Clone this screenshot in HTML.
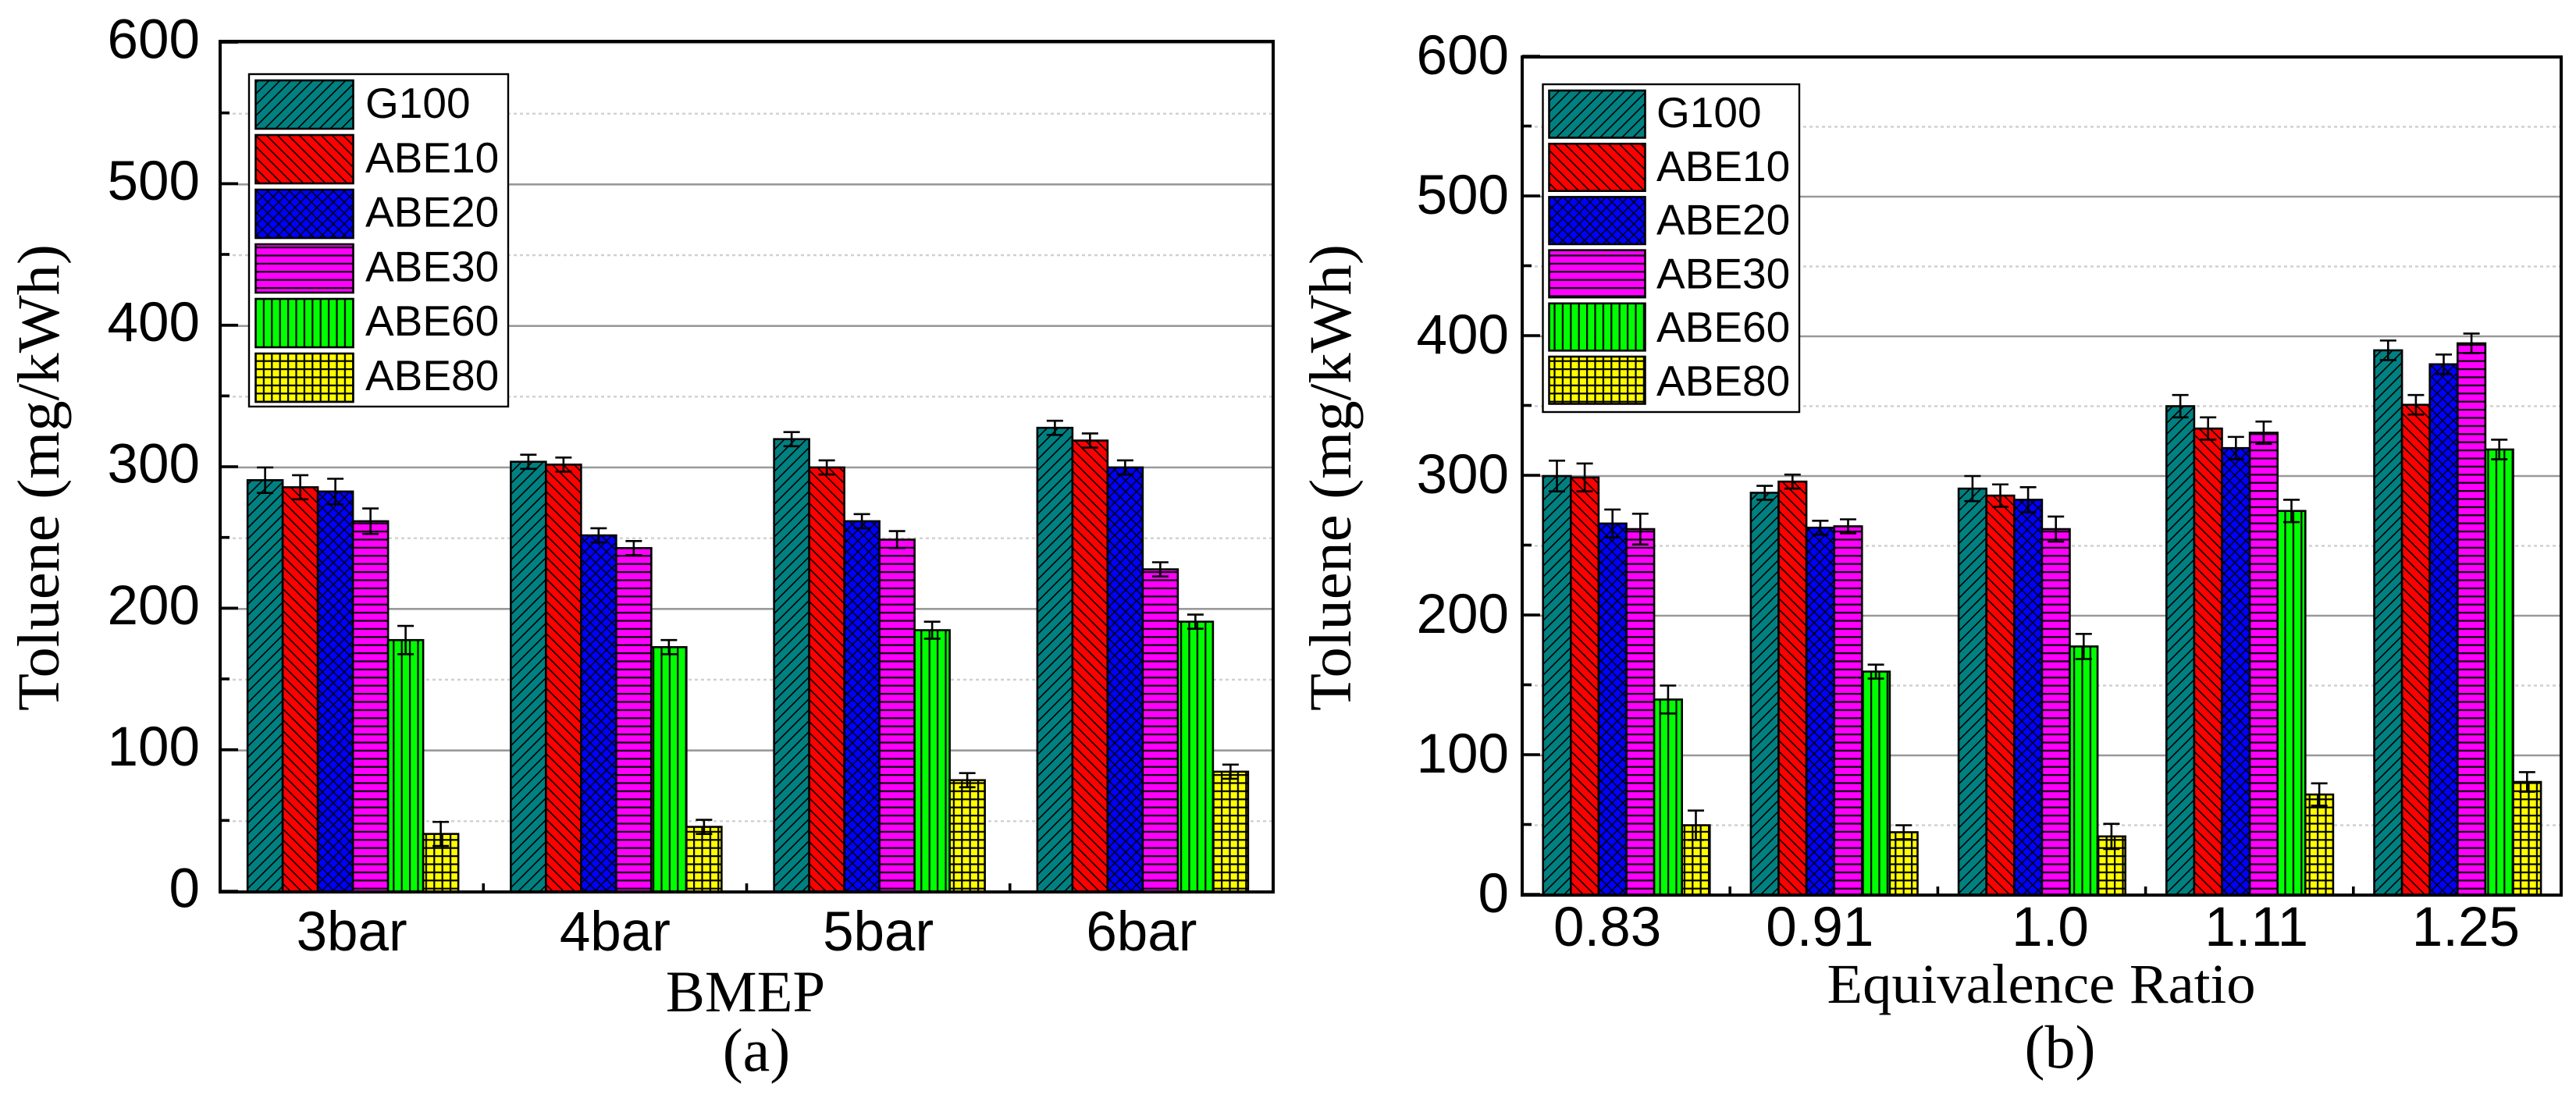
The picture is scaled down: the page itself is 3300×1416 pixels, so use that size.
<!DOCTYPE html>
<html lang="en">
<head>
<meta charset="utf-8">
<title>Toluene emissions by BMEP and equivalence ratio</title>
<style>
html,body{margin:0;padding:0;background:#fff;width:3300px;height:1416px;overflow:hidden}
svg{display:block}
.sans{font-family:"Liberation Sans",sans-serif;fill:#000}
.serif{font-family:"Liberation Serif",serif;fill:#000}
</style>
</head>
<body>
<svg id="chart" xmlns="http://www.w3.org/2000/svg" width="3300" height="1416" viewBox="0 0 3300 1416">
<defs>
<pattern id="hatch-0" patternUnits="userSpaceOnUse" width="14" height="14"><rect width="14" height="14" fill="#008080"/><path d="M-2,16L16,-2M-9,9L9,-9M5,23L23,5" stroke="#000" stroke-width="1.6" fill="none"/></pattern>
<pattern id="hatch-1" patternUnits="userSpaceOnUse" width="14" height="14"><rect width="14" height="14" fill="#ff0000"/><path d="M-2,-2L16,16M-9,5L9,23M5,-9L23,9" stroke="#000" stroke-width="1.6" fill="none"/></pattern>
<pattern id="hatch-2" patternUnits="userSpaceOnUse" width="14" height="14"><rect width="14" height="14" fill="#0000ff"/><path d="M-2,16L16,-2M-9,9L9,-9M5,23L23,5M-2,-2L16,16M-9,5L9,23M5,-9L23,9" stroke="#000" stroke-width="1.5" fill="none"/></pattern>
<pattern id="hatch-3" patternUnits="userSpaceOnUse" width="10.4" height="10.4"><rect width="10.4" height="10.4" fill="#ff00ff"/><rect y="4" width="10.4" height="2.2" fill="#000"/></pattern>
<pattern id="hatch-4" patternUnits="userSpaceOnUse" width="10.4" height="10.4"><rect width="10.4" height="10.4" fill="#00ff00"/><rect x="4" width="2.2" height="10.4" fill="#000"/></pattern>
<pattern id="hatch-5" patternUnits="userSpaceOnUse" width="10.4" height="10.4"><rect width="10.4" height="10.4" fill="#ffff00"/><rect y="4" width="10.4" height="2.2" fill="#000"/><rect x="4" width="2.2" height="10.4" fill="#000"/></pattern>
</defs>
<rect width="3300" height="1416" fill="#fff"/>
<g id="panel-a"></g>
<g id="panel-b"></g>
<text class="serif" font-size="76" text-anchor="middle" textLength="598" lengthAdjust="spacingAndGlyphs" transform="translate(75 612) rotate(-90)">Toluene (mg/kWh)</text>
<text class="serif" font-size="76" text-anchor="middle" textLength="598" lengthAdjust="spacingAndGlyphs" transform="translate(1730 612) rotate(-90)">Toluene (mg/kWh)</text>
<text class="serif" font-size="75" text-anchor="middle" x="955" y="1296">BMEP</text>
<text class="serif" font-size="78" text-anchor="middle" x="969" y="1372">(a)</text>
<text class="serif" font-size="72" text-anchor="middle" textLength="549" lengthAdjust="spacingAndGlyphs" x="2615" y="1285">Equivalence Ratio</text>
<text class="serif" font-size="78" text-anchor="middle" x="2639" y="1368">(b)</text>
</svg>
<script>
const seriesNames = ['G100', 'ABE10', 'ABE20', 'ABE30', 'ABE60', 'ABE80'];
const yMajorTicks = [0, 100, 200, 300, 400, 500, 600];
const yMinorTicks = [50, 150, 250, 350, 450, 550];

const bmepCategories = ['3bar', '4bar', '5bar', '6bar'];
const bmepG100 = [291, 304, 320, 328];
const bmepAbe10 = [286, 302, 300, 319];
const bmepAbe20 = [283, 252, 262, 300];
const bmepAbe30 = [262, 243, 249, 228];
const bmepAbe60 = [178, 173, 185, 191];
const bmepAbe80 = [41, 46, 79, 85];
const bmepErrG100 = [9, 5, 5, 5];
const bmepErrAbe10 = [8.5, 5, 5, 5];
const bmepErrAbe20 = [9, 5, 5, 5];
const bmepErrAbe30 = [9, 5, 6, 5];
const bmepErrAbe60 = [10, 5, 6, 5];
const bmepErrAbe80 = [8.5, 5, 5, 5];

const phiCategories = ['0.83', '0.91', '1.0', '1.11', '1.25'];
const phiG100 = [300, 288, 291, 350, 390];
const phiAbe10 = [299, 296, 286, 334, 351];
const phiAbe20 = [266, 263, 283, 320, 380];
const phiAbe30 = [262, 264, 262, 331, 395];
const phiAbe60 = [140, 160, 178, 275, 319];
const phiAbe80 = [50, 45, 42, 72, 81];
const phiErrG100 = [11, 5, 9, 8, 7];
const phiErrAbe10 = [10, 5, 8, 8, 7];
const phiErrAbe20 = [10, 5, 9, 8, 7];
const phiErrAbe30 = [11, 5, 9, 8, 7];
const phiErrAbe60 = [10, 5, 9, 8, 7];
const phiErrAbe80 = [10.5, 5, 9, 8, 7];

const bmepValues = [bmepG100, bmepAbe10, bmepAbe20, bmepAbe30, bmepAbe60, bmepAbe80];
const bmepErrors = [bmepErrG100, bmepErrAbe10, bmepErrAbe20, bmepErrAbe30, bmepErrAbe60, bmepErrAbe80];
const phiValues = [phiG100, phiAbe10, phiAbe20, phiAbe30, phiAbe60, phiAbe80];
const phiErrors = [phiErrG100, phiErrAbe10, phiErrAbe20, phiErrAbe30, phiErrAbe60, phiErrAbe80];

const NS = 'http://www.w3.org/2000/svg';

function add(parent, tag) {
  const node = document.createElementNS(NS, tag);
  parent.appendChild(node);
  return node;
}

function drawRule(parent, x1, y1, x2, y2, color, width, dash) {
  const line = add(parent, 'line');
  line.setAttribute('x1', x1);
  line.setAttribute('y1', y1);
  line.setAttribute('x2', x2);
  line.setAttribute('y2', y2);
  line.setAttribute('stroke', color);
  line.setAttribute('stroke-width', width);
  if (dash) line.setAttribute('stroke-dasharray', dash);
  return line;
}

function drawPanel(root, frame, categories, values, errors, legend, labelNudge) {
  const yScale = v => frame.y0 + (frame.y600 - frame.y0) * v / 600;
  const band = (frame.right - frame.left) / categories.length;
  const xBar = (c, s) => frame.left + band * (c + 0.5) + frame.shift + (s - seriesNames.length / 2) * frame.barW;

  yMinorTicks.forEach(v => {
    const g = drawRule(root, frame.left, yScale(v), frame.right, yScale(v), '#d0d0d0', 2.4, '4 4');
    
    
  });
  yMajorTicks.forEach(v => {
    const g = drawRule(root, frame.left, yScale(v), frame.right, yScale(v), '#999999', 2.6);
    
    
  });

  values.forEach((series, s) => {
    series.forEach((value, c) => {
      const bar = add(root, 'rect');
      bar.setAttribute('x', xBar(c, s));
      bar.setAttribute('y', yScale(value));
      bar.setAttribute('width', frame.barW);
      bar.setAttribute('height', yScale(0) - yScale(value));
      bar.setAttribute('fill', 'url(#hatch-' + s + ')');
      bar.setAttribute('stroke', '#000');
      bar.setAttribute('stroke-width', 2.6);
      
      
    });
  });

  values.forEach((series, s) => {
    series.forEach((value, c) => {
      const cx = xBar(c, s) + frame.barW / 2;
      const hi = yScale(value + errors[s][c]);
      const lo = yScale(value - errors[s][c]);
      const error = add(root, 'path');
      error.setAttribute('d', 'M' + cx + ',' + hi + 'V' + lo + 'M' + (cx - 10.5) + ',' + hi + 'H' + (cx + 10.5) + 'M' + (cx - 10.5) + ',' + lo + 'H' + (cx + 10.5));
      error.setAttribute('stroke', '#000');
      error.setAttribute('stroke-width', 2.6);
      error.setAttribute('fill', 'none');
      
      
    });
  });

  const box = add(root, 'rect');
  box.setAttribute('x', frame.left);
  box.setAttribute('y', frame.top);
  box.setAttribute('width', frame.right - frame.left);
  box.setAttribute('height', frame.bottom - frame.top);
  box.setAttribute('fill', 'none');
  box.setAttribute('stroke', '#000');
  box.setAttribute('stroke-width', 4);
  
  

  yMajorTicks.forEach(v => {
    const t = drawRule(root, frame.left, yScale(v) - 1, frame.left + 23, yScale(v) - 1, '#000', 3.6);
    
    
    const label = add(root, 'text');
    label.textContent = v;
    label.setAttribute('class', 'sans');
    label.setAttribute('font-size', 71);
    label.setAttribute('text-anchor', 'end');
    label.setAttribute('x', frame.tickRight);
    label.setAttribute('y', yScale(v) + frame.tickDrop);
    
    
  });
  yMinorTicks.forEach(v => {
    const t = drawRule(root, frame.left, yScale(v) - 1, frame.left + 12, yScale(v) - 1, '#000', 3.6);
    
    
  });

  categories.forEach((name, c) => {
    if (c > 0) {
      const tx = frame.left + band * c;
      const t = drawRule(root, tx, frame.bottom, tx, frame.bottom - 11, '#000', 3.6);
      
      
    }
    const label = add(root, 'text');
    label.textContent = name;
    label.setAttribute('class', 'sans');
    label.setAttribute('font-size', 71);
    label.setAttribute('text-anchor', 'middle');
    label.setAttribute('x', frame.left + band * (c + 0.5) + labelNudge[c]);
    label.setAttribute('y', frame.xLabelY);
    
    
  });

  const legendBox = add(root, 'rect');
  legendBox.setAttribute('x', legend.x);
  legendBox.setAttribute('y', legend.y);
  legendBox.setAttribute('width', legend.w);
  legendBox.setAttribute('height', legend.h);
  legendBox.setAttribute('fill', '#fff');
  legendBox.setAttribute('stroke', '#000');
  legendBox.setAttribute('stroke-width', 2.4);
  
  

  seriesNames.forEach((name, s) => {
    const swatch = add(root, 'rect');
    swatch.setAttribute('x', legend.swatchX);
    swatch.setAttribute('y', legend.swatchY + legend.step * s);
    swatch.setAttribute('width', legend.swatchW);
    swatch.setAttribute('height', legend.swatchH);
    swatch.setAttribute('fill', 'url(#hatch-' + s + ')');
    swatch.setAttribute('stroke', '#000');
    swatch.setAttribute('stroke-width', 2.6);
    
    
    const label = add(root, 'text');
    label.textContent = name;
    label.setAttribute('class', 'sans');
    label.setAttribute('font-size', 55);
    label.setAttribute('x', legend.textX);
    label.setAttribute('y', legend.textY + legend.textStep * s);
    
    
  });
}

drawPanel(document.getElementById('panel-a'),
  { left: 282, right: 1631, top: 53, bottom: 1143, y0: 1143, y600: 55, barW: 45, shift: 1.5, tickRight: 256, tickDrop: 19.5, xLabelY: 1218 },
  bmepCategories, bmepValues, bmepErrors,
  { x: 319, y: 95, w: 332, h: 426, swatchX: 327.5, swatchY: 103, swatchW: 125, swatchH: 62, step: 70, textX: 468, textY: 151, textStep: 69.8 },
  [0, 0, 0, 0]);

drawPanel(document.getElementById('panel-b'),
  { left: 1950, right: 3281, top: 73, bottom: 1147, y0: 1147, y600: 73, barW: 35.6, shift: 0.4, tickRight: 1933, tickDrop: 22, xLabelY: 1212 },
  phiCategories, phiValues, phiErrors,
  { x: 1976.5, y: 108, w: 328.5, h: 420, swatchX: 1984.5, swatchY: 116, swatchW: 123, swatchH: 60.5, step: 68.2, textX: 2122, textY: 163, textStep: 68.8 },
  [-24, -18, 11, 9, 11]);
</script>
</body>
</html>
